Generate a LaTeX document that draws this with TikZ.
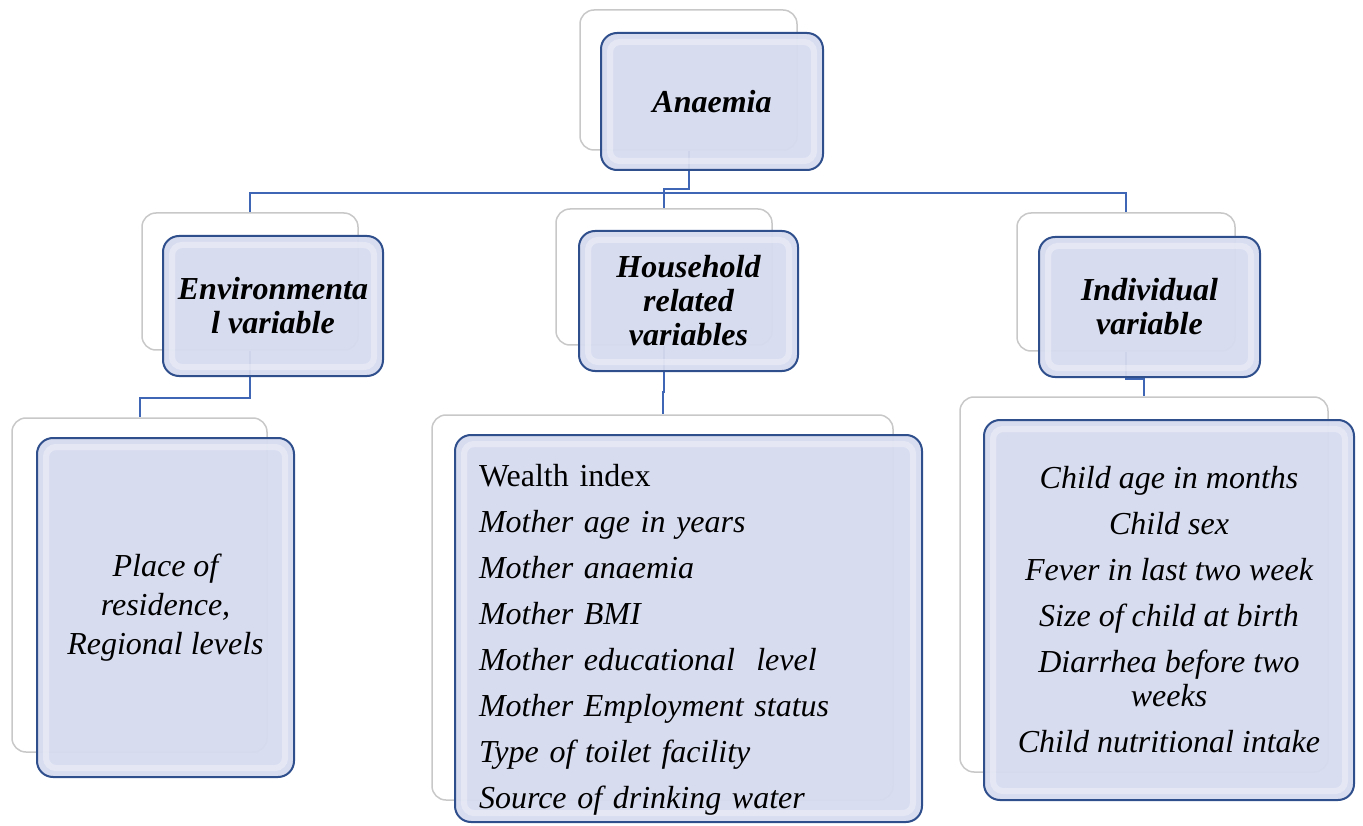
\documentclass[tikz,border=0pt]{standalone}
\usepackage{fontspec}
\setmainfont{Liberation Serif}
\usetikzlibrary{backgrounds,calc}
\definecolor{boxfill}{RGB}{214,219,239}
\definecolor{boxedge}{RGB}{46,78,140}
\definecolor{linkblue}{RGB}{62,102,180}
\definecolor{shadeedge}{RGB}{200,200,200}

\tikzset{
  back/.style={rectangle, draw=shadeedge, fill=white, line width=1.5pt,
    rounded corners=14pt, inner sep=0pt},
  front/.style={rectangle, draw=boxedge, fill=boxfill, fill opacity=0.95,
    text opacity=1, line width=2pt, rounded corners=16pt, inner sep=0pt,
    align=center,
    path picture={\draw[white, opacity=0.35, line width=6pt, rounded corners=10pt]
      ([shift={(9pt,-9pt)}]path picture bounding box.north west) rectangle
      ([shift={(-9pt,9pt)}]path picture bounding box.south east);}},
  head/.style={font=\fontsize{32}{34}\selectfont\bfseries\itshape},
  item/.style={font=\fontsize{32}{39}\selectfont\itshape},
  link/.style={draw=linkblue, line width=2pt},
}

\begin{document}
\begin{tikzpicture}[x=1pt,y=-1pt]
        \useasboundingbox (0,0) rectangle (1363,826);
        \coordinate (top) at (0,189);
        \coordinate (bus) at (0,193);
        \coordinate (envjog) at (0,398);
        \coordinate (housejog) at (0,392);
        \coordinate (indjog) at (0,379);
        % top level
        \node[back, minimum width=217pt, minimum height=140pt] (anaemiaSh) at (688.5,80) {};
        \node[front, head, minimum width=222pt, minimum height=137pt] (anaemia) at (712,101.5) {Anaemia};
        % second level
        \node[back, minimum width=216pt, minimum height=137pt] (envSh) at (250,281.5) {};
        \node[front, head, minimum width=220pt, minimum height=140pt] (env) at (273,306) {Environmenta\\l variable};
        \node[back, minimum width=216pt, minimum height=136pt] (houseSh) at (664,277) {};
        \node[front, head, minimum width=219pt, minimum height=140pt] (house) at (688.5,301) {Household\\related\\variables};
        \node[back, minimum width=218pt, minimum height=138pt] (indivSh) at (1126,282) {};
        \node[front, head, minimum width=221pt, minimum height=140pt] (indiv) at (1149.5,307) {Individual\\variable};
        % third level
        \node[back, minimum width=255pt, minimum height=334pt] (envlistSh) at (139.5,585) {};
        \node[front, item, minimum width=257pt, minimum height=339pt] (envlist) at (165.5,607.5)
          {Place of\\residence,\\Regional levels};
        \node[back, minimum width=461pt, minimum height=385pt] (houselistSh) at (662.5,607.5) {};
        \node[front, font=\fontsize{32}{46}\selectfont\itshape, align=left, text width=419pt,
          minimum width=467pt, minimum height=387pt] (houselist) at (688.5,628.5)
          {\rule{0pt}{45pt}{\upshape Wealth index}\\Mother age in years\\Mother anaemia\\Mother BMI\\
           Mother educational~ level\\Mother Employment status\\Type of toilet facility\\
           Source of drinking water};
        \node[back, minimum width=368pt, minimum height=375pt] (indivlistSh) at (1144,584.5) {};
        \node[front, font=\fontsize{32}{34}\selectfont\itshape, minimum width=370pt,
          minimum height=380pt] (indivlist) at (1169,610)
          {Child age in months\\[12pt]Child sex\\[12pt]Fever in last two week\\[12pt]
           Size of child at birth\\[12pt]Diarrhea before two\\weeks\\[12pt]Child nutritional intake};
        % connectors
        \begin{scope}[on background layer]
          \draw[link] (anaemiaSh) -- (anaemiaSh |- top) -| (houseSh);
          \draw[link] (envSh) -- (envSh |- bus) -- (indivSh |- bus) -- (indivSh);
          \draw[link] (envSh) -- (envSh |- envjog) -| (envlistSh);
          \draw[link] (houseSh) -- (houseSh |- housejog) -| (houselistSh);
          \draw[link] (indivSh) -- (indivSh |- indjog) -| (indivlistSh);
        \end{scope}
    \end{tikzpicture}
\end{document}
